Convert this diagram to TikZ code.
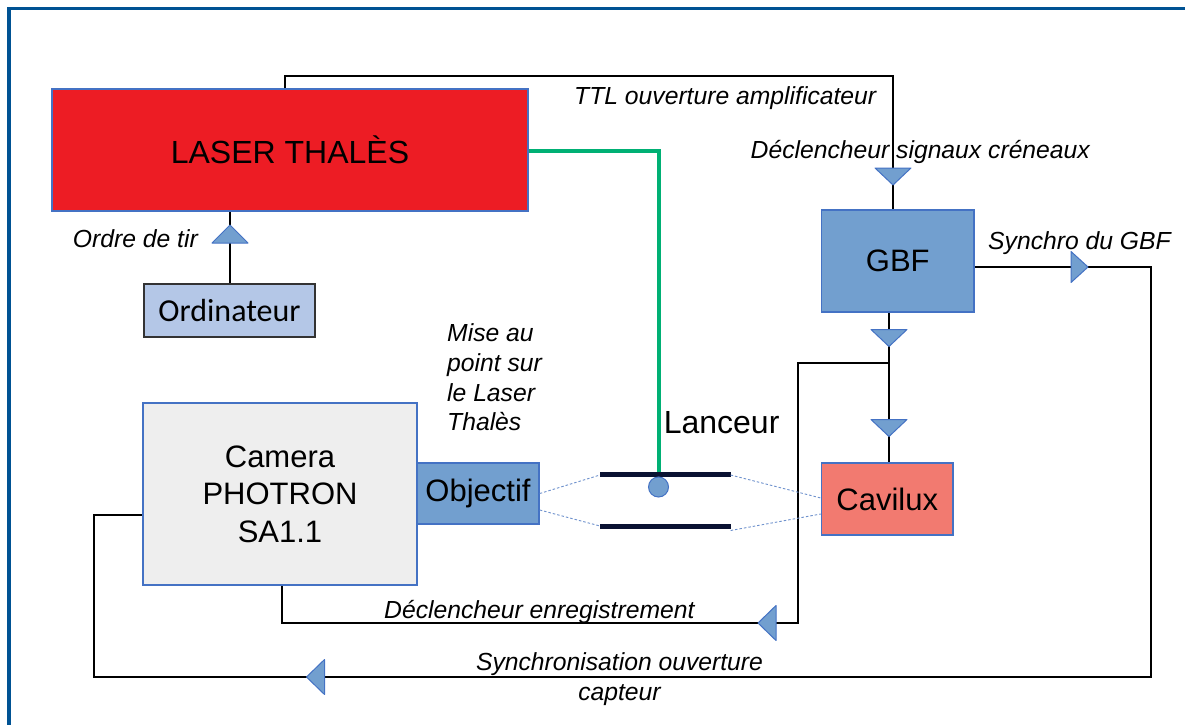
\documentclass[tikz,border=0pt]{standalone}
\usepackage{fontspec}
\setmainfont{Liberation Sans}
\newfontfamily\calib{Carlito}
\usetikzlibrary{calc}
\definecolor{framecol}{RGB}{0,82,147}
\definecolor{laserred}{RGB}{237,28,36}
\definecolor{boxblue}{RGB}{114,159,207}
\definecolor{boxborder}{RGB}{68,114,196}
\definecolor{camgray}{RGB}{238,238,238}
\definecolor{ordifill}{RGB}{180,199,231}
\definecolor{cavfill}{RGB}{242,122,112}
\definecolor{beamgreen}{RGB}{0,176,116}
\definecolor{platenavy}{RGB}{10,18,50}
\definecolor{dashblue}{RGB}{110,145,205}
\begin{document}
\begin{tikzpicture}[x=1pt,y=-1pt,
  boxs/.style={draw=boxborder, line width=1.5pt, inner sep=0pt, font=\fontsize{31}{37.5}\selectfont},
  lab/.style={inner sep=0pt, font=\fontsize{24.7}{29.7}\selectfont\itshape},
  conn/.style={draw=black, line width=1.4pt},
  arrowtri/.style={fill=boxblue, draw=boxborder, line width=1pt, line join=round},
  tridown/.pic={\path[arrowtri] (-18,-8.5) -- (18,-8.5) -- (0,8.5) -- cycle;},
  triup/.pic={\path[arrowtri] (-18,9) -- (18,9) -- (0,-9) -- cycle;},
  triright/.pic={\path[arrowtri] (-8.5,-15.5) -- (-8.5,15.5) -- (8.5,0) -- cycle;},
  trileft/.pic={\path[arrowtri] (9,-17.5) -- (9,17.5) -- (-9,0) -- cycle;},
  dashl/.style={draw=dashblue, line width=0.9pt, dash pattern=on 2.5pt off 2pt},
  plate/.style={draw=platenavy, line width=5pt},
  beam/.style={draw=beamgreen, line width=4pt}
]
\useasboundingbox (0,0) rectangle (1185,725);
\fill[white] (0,0) rectangle (1185,725);
% frame
\draw[framecol, line width=3.5pt] (1185,8.5) -- (9,8.5) -- (9,725);

% boxes
\node[boxs, fill=laserred, minimum width=476, minimum height=122, font=\fontsize{32}{38}\selectfont] (laser) at (290,150) {LASER THALÈS};
\node[draw=black!80, line width=1.5pt, fill=ordifill, inner sep=0pt, minimum width=171, minimum height=53, font=\calib\fontsize{32}{38}\selectfont] (ordi) at (229.5,310.5) {Ordinateur};
\node[boxs, fill=boxblue, minimum width=152.5, minimum height=102] (gbf) at (897.75,261) {GBF};
\node[boxs, fill=cavfill, minimum width=131.5, minimum height=72] (cav) at (887.25,499) {Cavilux};
\node[boxs, fill=camgray, minimum width=274, minimum height=182, align=center] (cam) at (280,494) {Camera\\PHOTRON\\SA1.1};
\node[boxs, fill=boxblue, minimum width=122, minimum height=61] (obj) at (478,493.5) {Objectif};

% labels
\node[lab, anchor=west] (ttl) at (574,98) {TTL ouverture amplificateur};
\node[lab, anchor=west] (decl) at (750.5,152) {Déclencheur signaux créneaux};
\node[lab, anchor=west] (synchro) at (988,243) {Synchro du GBF};
\node[lab, anchor=west] (ordre) at (72.7,239) {Ordre de tir};
\node[lab, anchor=west, align=left] (mise) at (447,377.5) {Mise au\\point sur\\le Laser\\Thalès};
\node[lab, anchor=west] (enreg) at (384,612) {Déclencheur enregistrement};
\node[lab, align=center] (syncouv) at (619.5,679) {Synchronisation ouverture\\capteur};
\node[inner sep=0pt, anchor=west, font=\fontsize{32}{38}\selectfont] (lanceur) at (663.6,423) {Lanceur};

% coordinates
\coordinate (tA) at (893,176.5);
\coordinate (tB) at (230,234);
\coordinate (tC) at (1079.5,267);
\coordinate (tD) at (315.5,677);
\coordinate (tE) at (889,338);
\coordinate (tF) at (889,428);
\coordinate (tG) at (767,623);
\coordinate (ttlA) at (285,76);
\coordinate (ttlB) at (893,76);
\coordinate (sR) at (1151,677);
\coordinate (sL) at (94,677);
\coordinate (camW) at (94,515);
\coordinate (junc) at (889,363);
\coordinate (jL) at (798,363);
\coordinate (dB) at (798,623);
\coordinate (dC) at (282,623);
\coordinate (gr) at (659,150.5);
\coordinate (p1a) at (600,474);
\coordinate (p1b) at (730.6,474);
\coordinate (p2a) at (600,526);
\coordinate (p2b) at (730.6,526);

% connectors
\draw[conn] (ttlA |- laser.north) -- (ttlA) -- (ttlB) -- (tA |- gbf.north);
\draw[conn] (tB |- ordi.north) -- (tB |- laser.south);
\draw[conn] (tC -| gbf.east) -- (tC -| sR) -- (sR) -- (sL) -- (camW) -- (camW -| cam.west);
\draw[conn] (junc |- gbf.south) -- (junc |- cav.north);
\draw[conn] (junc) -- (jL) -- (dB) -- (dC) -- (dC |- cam.south);

% launcher
\draw[beam] (laser.east |- gr) -- (gr) -- ($(gr |- p1a)+(0,-2)$);
\draw[plate] (p1a) -- (p1b);
\draw[plate] (p2a) -- (p2b);
\node[circle, fill=boxblue, draw=boxborder, line width=1pt, minimum size=20pt, inner sep=0pt] (proj) at (658.5,487) {};

% dashed sight lines
\draw[dashl] (obj.east) -- ($(p1a)+(0,1)$);
\draw[dashl] ($(obj.east)+(0,16.5)$) -- ($(p2a)+(0,0)$);
\draw[dashl] ($(p1b)+(0,1)$) -- ($(cav.west)+(0,-1)$);
\draw[dashl] ($(p2b)+(0,4.5)$) -- ($(cav.west)+(0,15)$);

% triangles
\pic at (tA) {tridown};
\pic at (tB) {triup};
\pic at (tC) {triright};
\pic at (tD) {trileft};
\pic at (tE) {tridown};
\pic at (tF) {tridown};
\pic at (tG) {trileft};
\end{tikzpicture}
\end{document}
